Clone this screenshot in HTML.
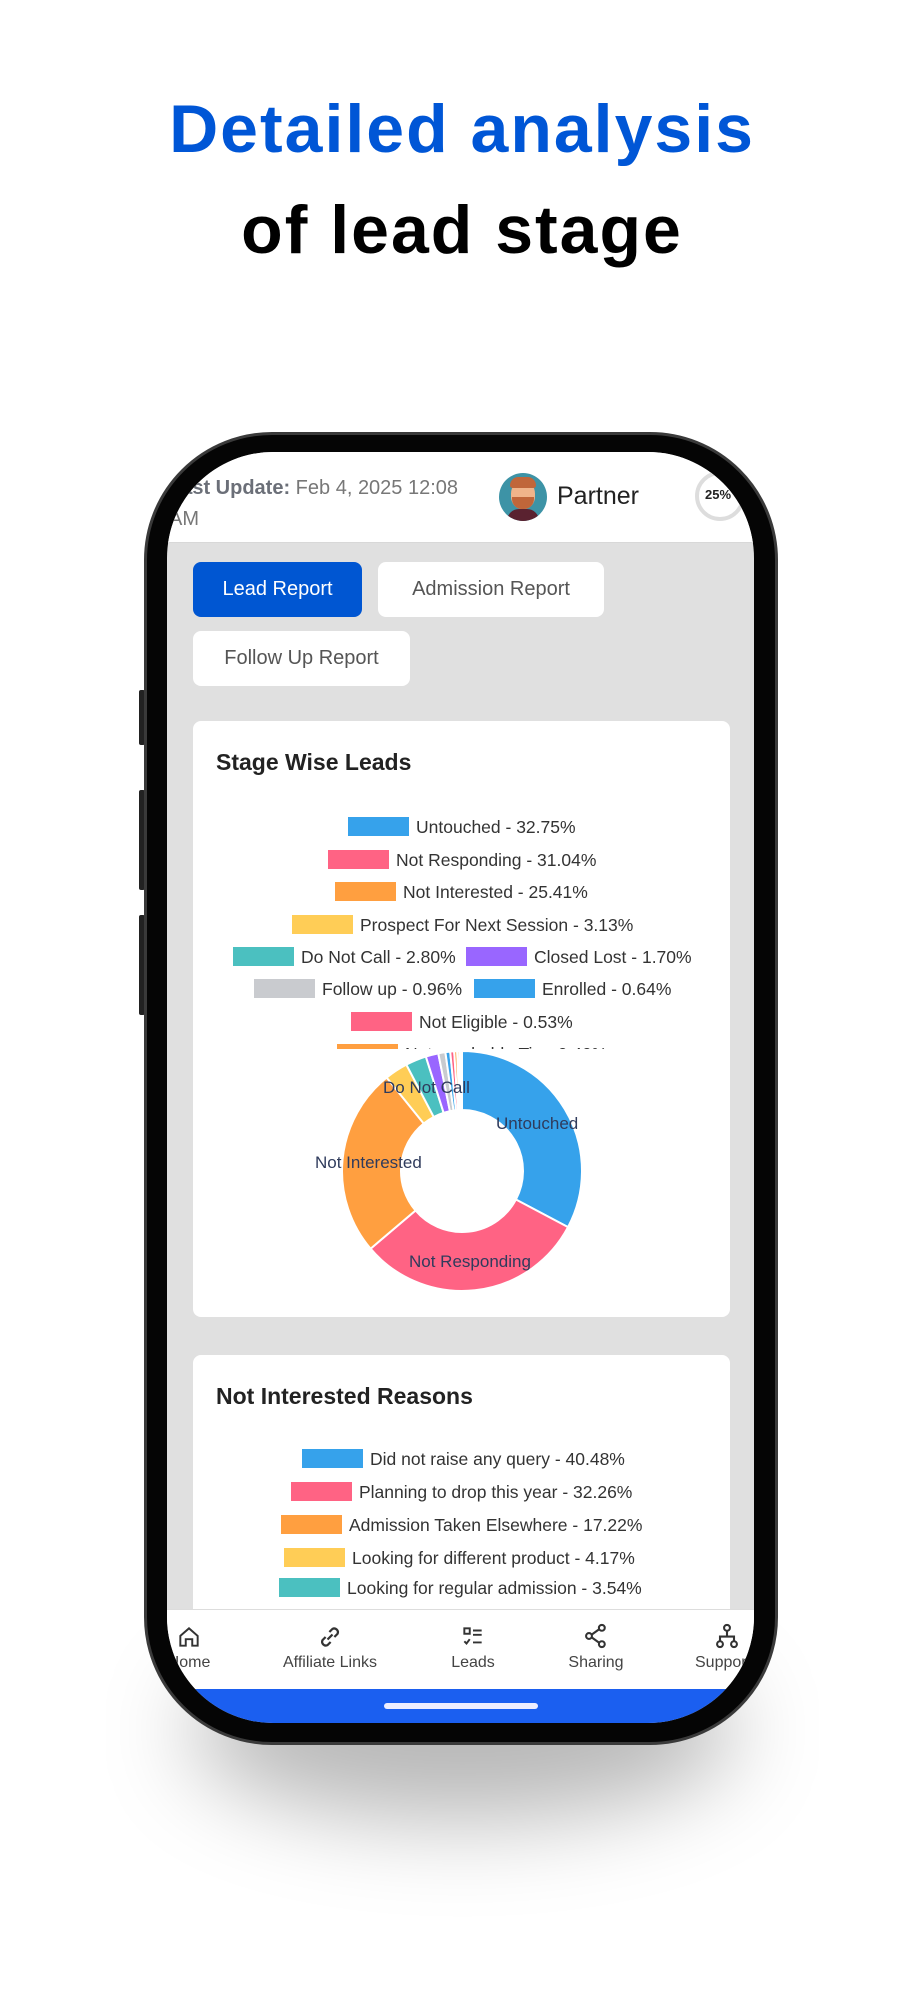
<!DOCTYPE html>
<html><head><meta charset="utf-8">
<style>
*{margin:0;padding:0;box-sizing:border-box}
body{width:924px;height:2000px;background:#fff;position:relative;overflow:hidden;font-family:"Liberation Sans",sans-serif}
.abs{position:absolute}
.t1{position:absolute;left:0;width:924px;text-align:center;font-weight:bold;font-size:68px;letter-spacing:2px;line-height:1}
.shadow{position:absolute;left:190px;top:1640px;width:545px;height:180px;border-radius:50%;background:rgba(0,0,0,0.28);filter:blur(45px)}
.frame{position:absolute;left:144px;top:432px;width:634px;height:1313px;border-radius:128px;background:#050505;border:3px solid #3a3a3a}
.screen{position:absolute;left:167px;top:452px;width:587px;height:1271px;border-radius:106px;overflow:hidden;background:#e0e0e0}
.btn{position:absolute;height:55px;border-radius:8px;background:#fff;color:#555;font-size:20px;line-height:55px;text-align:center}
.card{position:absolute;left:26px;width:537px;background:#fff;border-radius:8px}
.row{position:absolute;height:20px;font-size:17.5px;color:#333;white-space:nowrap;line-height:20px}
.row i{display:inline-block;width:61px;height:19px;vertical-align:top;margin-right:7px}
.nav{position:absolute;top:1157px;left:0;width:587px;height:80px;background:#fff;border-top:1px solid #ddd}
.nl{position:absolute;top:44px;font-size:16px;color:#444;white-space:nowrap;transform:translateX(-50%)}
.ni{position:absolute;top:12px;transform:translateX(-50%)}
.side{position:absolute;left:139px;width:6px;background:#222;border-radius:2px}
</style></head><body>
<div class="t1" style="top:95px;color:#0056d6">Detailed analysis</div>
<div class="t1" style="top:196px;color:#000">of lead stage</div>
<div class="shadow"></div>
<div class="side" style="top:690px;height:55px"></div>
<div class="side" style="top:790px;height:100px"></div>
<div class="side" style="top:915px;height:100px"></div>
<div class="frame"></div>
<div class="screen">
  <div class="abs" style="left:0;top:0;width:587px;height:91px;background:#fff;border-bottom:1px solid #d8d8d8"></div>
  <div class="abs" style="left:2px;top:21px;font-size:20px;color:#777;line-height:31px;width:320px"><b style="color:#6b6f78">Last Update:</b> Feb 4, 2025 12:08<br>AM</div>
  <div class="abs" style="left:332px;top:21px;width:48px;height:48px;border-radius:50%;background:#3d93a6;overflow:hidden">
    <div class="abs" style="left:12px;top:8px;width:24px;height:28px;border-radius:45%;background:#f0b48a"></div>
    <div class="abs" style="left:11px;top:4px;width:26px;height:11px;border-radius:10px 10px 3px 3px;background:#c0663a"></div>
    <div class="abs" style="left:13px;top:24px;width:22px;height:12px;border-radius:0 0 10px 10px;background:#c0663a"></div>
    <div class="abs" style="left:8px;top:36px;width:32px;height:20px;border-radius:12px 12px 0 0;background:#5a2230"></div>
  </div>
  <div class="abs" style="left:390px;top:30px;font-size:25px;color:#222">Partner</div>
  <div class="abs" style="left:528px;top:19px;width:50px;height:50px;border-radius:50%;border:4px solid #ddd"></div>
  <div class="abs" style="left:538px;top:35px;font-size:13px;font-weight:bold;color:#222">25%</div>
  <div class="abs" style="left:562px;top:17px;width:8px;height:5px;background:#e00;border-radius:2px"></div>

  <div class="btn" style="left:26px;top:110px;width:169px;background:#0056d2;color:#fff">Lead Report</div>
  <div class="btn" style="left:211px;top:110px;width:226px">Admission Report</div>
  <div class="btn" style="left:26px;top:179px;width:217px">Follow Up Report</div>

  <div class="card" style="top:269px;height:596px">
    <div class="abs" style="left:23px;top:28px;font-size:23px;font-weight:bold;color:#222">Stage Wise Leads</div>
  </div>
  <div class="card" style="top:903px;height:300px">
    <div class="abs" style="left:23px;top:28px;font-size:23px;font-weight:bold;color:#222">Not Interested Reasons</div>
  </div>
  <div class="abs" style="left:-167px;top:-452px;width:924px;height:1049px;overflow:hidden">
    <div class="row" style="left:348px;top:817px"><i style="background:#36a2eb"></i>Untouched - 32.75%</div>
    <div class="row" style="left:328px;top:850px"><i style="background:#ff6384"></i>Not Responding - 31.04%</div>
    <div class="row" style="left:335px;top:882px"><i style="background:#ff9f40"></i>Not Interested - 25.41%</div>
    <div class="row" style="left:292px;top:915px"><i style="background:#ffcd56"></i>Prospect For Next Session - 3.13%</div>
    <div class="row" style="left:233px;top:947px"><i style="background:#4bc0c0"></i>Do Not Call - 2.80%</div>
    <div class="row" style="left:466px;top:947px"><i style="background:#9966ff"></i>Closed Lost - 1.70%</div>
    <div class="row" style="left:254px;top:979px"><i style="background:#c9cbcf"></i>Follow up - 0.96%</div>
    <div class="row" style="left:474px;top:979px"><i style="background:#36a2eb"></i>Enrolled - 0.64%</div>
    <div class="row" style="left:351px;top:1012px"><i style="background:#ff6384"></i>Not Eligible - 0.53%</div>
    <div class="row" style="left:337px;top:1044px"><i style="background:#ff9f40"></i>Not reachable Tie - 0.40%</div>
  </div>
  <div class="abs" style="left:-167px;top:-452px;width:924px;height:2061px;overflow:hidden">
    <div class="row" style="left:302px;top:1449px"><i style="background:#36a2eb"></i>Did not raise any query - 40.48%</div>
    <div class="row" style="left:291px;top:1482px"><i style="background:#ff6384"></i>Planning to drop this year - 32.26%</div>
    <div class="row" style="left:281px;top:1515px"><i style="background:#ff9f40"></i>Admission Taken Elsewhere - 17.22%</div>
    <div class="row" style="left:284px;top:1548px"><i style="background:#ffcd56"></i>Looking for different product - 4.17%</div>
    <div class="row" style="left:279px;top:1578px"><i style="background:#4bc0c0"></i>Looking for regular admission - 3.54%</div>
    <svg id="donut" class="abs" style="left:0;top:0" width="924" height="1400"></svg>
  </div>

  <div class="nav">
    <svg class="ni" style="left:22px;top:14px" width="26" height="26" viewBox="0 0 24 24" fill="none" stroke="#333" stroke-width="1.8"><path d="M4 11 L12 4 L20 11 V20 H15 V14 H9 V20 H4Z"/></svg>
    <div class="nl" style="left:22px">Home</div>
    <svg class="ni" style="left:163px" width="30" height="30" viewBox="0 0 24 24" fill="none" stroke="#333" stroke-width="1.8"><path d="M10 14 L14 10"/><path d="M8.5 12 L6 14.5 a3 3 0 0 0 4 4 L12.5 16"/><path d="M15.5 12 L18 9.5 a3 3 0 0 0 -4 -4 L11.5 8"/></svg>
    <div class="nl" style="left:163px">Affiliate Links</div>
    <svg class="ni" style="left:306px;top:14px" width="26" height="26" viewBox="0 0 24 24" fill="none" stroke="#333" stroke-width="1.8"><rect x="4" y="4" width="5" height="5"/><path d="M12 6h8M12 10h8M12 17h8M4 16l2 2 3-4"/></svg>
    <div class="nl" style="left:306px">Leads</div>
    <svg class="ni" style="left:429px" width="28" height="28" viewBox="0 0 24 24" fill="none" stroke="#333" stroke-width="1.8"><circle cx="17" cy="5" r="2.5"/><circle cx="6" cy="12" r="2.5"/><circle cx="17" cy="19" r="2.5"/><path d="M8 11l7-5M8 13l7 5"/></svg>
    <div class="nl" style="left:429px">Sharing</div>
    <svg class="ni" style="left:560px" width="28" height="28" viewBox="0 0 24 24" fill="none" stroke="#333" stroke-width="1.8"><circle cx="12" cy="5" r="2.5"/><circle cx="6" cy="19" r="2.5"/><circle cx="18" cy="19" r="2.5"/><path d="M12 7.5v5M6 16.5v-4h12v4"/></svg>
    <div class="nl" style="left:528px;transform:none">Support</div>
  </div>
  <div class="abs" style="left:0;top:1237px;width:587px;height:40px;background:#1b5ff0"></div>
  <div class="abs" style="left:217px;top:1251px;width:154px;height:6px;border-radius:3px;background:#eef"></div>
</div>
<script>
var d=[[32.75,"#36a2eb"],[31.04,"#ff6384"],[25.41,"#ff9f40"],[3.13,"#ffcd56"],[2.80,"#4bc0c0"],[1.70,"#9966ff"],[0.96,"#c9cbcf"],[0.64,"#36a2eb"],[0.53,"#ff6384"],[0.4,"#ff9f40"],[0.3,"#ffcd56"],[0.2,"#4bc0c0"],[0.14,"#9966ff"]];
var cx=462,cy=1171,R=120,r=61,a=-Math.PI/2,s="";
function p(rad,ang){return (cx+rad*Math.cos(ang)).toFixed(2)+","+(cy+rad*Math.sin(ang)).toFixed(2)}
d.forEach(function(x){var b=a+x[0]/100*2*Math.PI,l=(b-a)>Math.PI?1:0;
s+='<path d="M'+p(R,a)+' A'+R+','+R+' 0 '+l+' 1 '+p(R,b)+' L'+p(r,b)+' A'+r+','+r+' 0 '+l+' 0 '+p(r,a)+' Z" fill="'+x[1]+'" stroke="#fff" stroke-width="2"/>';a=b;});
s+='<g font-family="Liberation Sans, sans-serif" font-size="17" fill="#2f3b5c"><text x="496" y="1129">Untouched</text><text x="315" y="1168">Not Interested</text><text x="409" y="1267">Not Responding</text><text x="383" y="1093">Do Not Call</text></g>';
document.getElementById("donut").innerHTML=s;
</script>
</body></html>
